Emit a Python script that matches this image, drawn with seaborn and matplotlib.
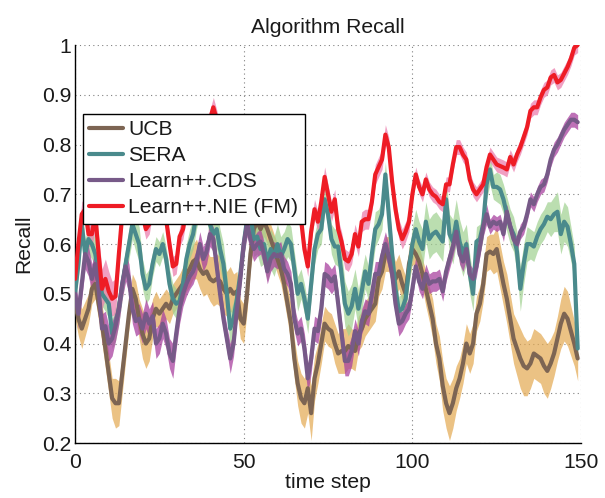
import numpy as np
import pandas as pd
import matplotlib
matplotlib.use("Agg")
import matplotlib.pyplot as plt
import seaborn as sns

# ---- data -------------------------------------------------------------
steps = np.arange(150)

ucb = [0.48, 0.45, 0.43, 0.45, 0.47, 0.51, 0.52, 0.48, 0.44, 0.39,
       0.34, 0.29, 0.28, 0.28, 0.34, 0.40, 0.46, 0.51, 0.49, 0.45,
       0.42, 0.40, 0.41, 0.45, 0.47, 0.46, 0.47, 0.48, 0.47, 0.49,
       0.50, 0.51, 0.52, 0.54, 0.55, 0.565, 0.57, 0.55, 0.54, 0.545,
       0.53, 0.525, 0.53, 0.525, 0.51, 0.50, 0.51, 0.50, 0.505, 0.45,
       0.44, 0.50, 0.58, 0.63, 0.645, 0.63, 0.645, 0.63, 0.61, 0.59,
       0.57, 0.55, 0.52, 0.48, 0.44, 0.37, 0.32, 0.29, 0.28, 0.31,
       0.26, 0.33, 0.36, 0.40, 0.44, 0.43, 0.425, 0.40, 0.38, 0.385,
       0.385, 0.395, 0.39, 0.385, 0.42, 0.43, 0.45, 0.46, 0.47, 0.48,
       0.53, 0.545, 0.58, 0.58, 0.55, 0.53, 0.545, 0.52, 0.50, 0.56,
       0.59, 0.58, 0.565, 0.54, 0.51, 0.48, 0.45, 0.40, 0.37, 0.315,
       0.28, 0.26, 0.28, 0.31, 0.33, 0.36, 0.40, 0.38, 0.40, 0.46,
       0.48, 0.52, 0.58, 0.585, 0.58, 0.59, 0.555, 0.52, 0.49, 0.45,
       0.41, 0.39, 0.37, 0.355, 0.35, 0.36, 0.38, 0.375, 0.37, 0.355,
       0.345, 0.36, 0.38, 0.41, 0.44, 0.46, 0.45, 0.425, 0.40, 0.37]

sera = [0.50, 0.56, 0.64, 0.58, 0.61, 0.60, 0.58, 0.54, 0.50, 0.49,
        0.48, 0.42, 0.44, 0.47, 0.52, 0.56, 0.60, 0.64, 0.62, 0.60,
        0.54, 0.51, 0.52, 0.56, 0.59, 0.58, 0.60, 0.57, 0.52, 0.49,
        0.48, 0.485, 0.52, 0.57, 0.60, 0.62, 0.66, 0.69, 0.71, 0.68,
        0.64, 0.62, 0.63, 0.59, 0.56, 0.50, 0.43, 0.45, 0.49, 0.54,
        0.60, 0.65, 0.66, 0.61, 0.615, 0.59, 0.60, 0.565, 0.59, 0.575,
        0.60, 0.575, 0.59, 0.61, 0.60, 0.55, 0.50, 0.52, 0.49, 0.45,
        0.52, 0.59, 0.62, 0.63, 0.69, 0.66, 0.61, 0.595, 0.595, 0.54,
        0.48, 0.46, 0.475, 0.51, 0.47, 0.505, 0.545, 0.52, 0.58, 0.63,
        0.64, 0.66, 0.74, 0.66, 0.58, 0.51, 0.465, 0.47, 0.49, 0.55,
        0.60, 0.63, 0.605, 0.59, 0.645, 0.61, 0.62, 0.625, 0.615, 0.605,
        0.69, 0.62, 0.605, 0.645, 0.605, 0.58, 0.60, 0.54, 0.50, 0.605,
        0.61, 0.64, 0.72, 0.75, 0.715, 0.715, 0.71, 0.69, 0.66, 0.635,
        0.62, 0.585, 0.51, 0.56, 0.60, 0.60, 0.595, 0.615, 0.63, 0.64,
        0.655, 0.65, 0.66, 0.665, 0.62, 0.645, 0.635, 0.60, 0.56, 0.39]

cds = [0.50, 0.46, 0.52, 0.58, 0.565, 0.53, 0.56, 0.51, 0.43, 0.435,
       0.40, 0.41, 0.435, 0.47, 0.52, 0.555, 0.53, 0.47, 0.445, 0.45,
       0.43, 0.46, 0.44, 0.455, 0.40, 0.41, 0.44, 0.42, 0.38, 0.365,
       0.42, 0.47, 0.50, 0.52, 0.535, 0.545, 0.565, 0.60, 0.57, 0.585,
       0.62, 0.61, 0.555, 0.50, 0.45, 0.41, 0.37, 0.40, 0.47, 0.53,
       0.60, 0.64, 0.61, 0.59, 0.60, 0.605, 0.58, 0.545, 0.57, 0.58,
       0.575, 0.58, 0.55, 0.54, 0.52, 0.45, 0.42, 0.43, 0.39, 0.33,
       0.37, 0.43, 0.425, 0.47, 0.54, 0.535, 0.525, 0.535, 0.48, 0.42,
       0.365, 0.365, 0.385, 0.425, 0.40, 0.445, 0.465, 0.46, 0.50, 0.54,
       0.54, 0.575, 0.60, 0.575, 0.54, 0.48, 0.44, 0.445, 0.46, 0.47,
       0.51, 0.555, 0.525, 0.51, 0.54, 0.52, 0.525, 0.525, 0.53, 0.505,
       0.545, 0.57, 0.595, 0.625, 0.58, 0.565, 0.59, 0.54, 0.53, 0.555,
       0.595, 0.635, 0.66, 0.635, 0.645, 0.64, 0.645, 0.62, 0.665, 0.635,
       0.61, 0.60, 0.625, 0.635, 0.66, 0.69, 0.68, 0.70, 0.715, 0.72,
       0.74, 0.77, 0.79, 0.80, 0.815, 0.83, 0.84, 0.85, 0.85, 0.845]

nie = [0.53, 0.60, 0.66, 0.67, 0.62, 0.62, 0.66, 0.58, 0.51, 0.53,
       0.505, 0.49, 0.495, 0.58, 0.66, 0.71, 0.74, 0.73, 0.70, 0.68,
       0.66, 0.63, 0.64, 0.68, 0.72, 0.70, 0.67, 0.65, 0.60, 0.555,
       0.56, 0.615, 0.63, 0.67, 0.71, 0.73, 0.76, 0.78, 0.80, 0.83,
       0.85, 0.875, 0.85, 0.82, 0.79, 0.76, 0.74, 0.72, 0.70, 0.72,
       0.75, 0.78, 0.80, 0.78, 0.76, 0.75, 0.74, 0.73, 0.74, 0.72,
       0.70, 0.71, 0.69, 0.70, 0.72, 0.71, 0.68, 0.65, 0.59, 0.555,
       0.625, 0.67, 0.645, 0.685, 0.735, 0.70, 0.665, 0.69, 0.63, 0.605,
       0.57, 0.565, 0.58, 0.62, 0.595, 0.645, 0.65, 0.65, 0.685, 0.74,
       0.755, 0.77, 0.82, 0.795, 0.725, 0.67, 0.63, 0.61, 0.625, 0.645,
       0.70, 0.74, 0.715, 0.70, 0.73, 0.71, 0.70, 0.695, 0.685, 0.68,
       0.72, 0.72, 0.76, 0.795, 0.795, 0.78, 0.77, 0.73, 0.71, 0.70,
       0.71, 0.72, 0.755, 0.78, 0.77, 0.76, 0.757, 0.754, 0.75, 0.775,
       0.76, 0.78, 0.795, 0.815, 0.835, 0.868, 0.875, 0.875, 0.895, 0.91,
       0.915, 0.935, 0.94, 0.925, 0.93, 0.943, 0.956, 0.973, 0.995, 1.0]

# half-widths of the shaded spread around each mean curve
ucb_err = [0.03, 0.035, 0.04, 0.035, 0.03, 0.03, 0.03, 0.035, 0.04, 0.04,
           0.04, 0.04, 0.05, 0.045, 0.04, 0.035, 0.03, 0.03, 0.035, 0.04,
           0.05, 0.05, 0.045, 0.04, 0.035, 0.03, 0.03, 0.03, 0.03, 0.03,
           0.03, 0.03, 0.035, 0.035, 0.035, 0.035, 0.04, 0.04, 0.045, 0.045,
           0.045, 0.05, 0.05, 0.05, 0.05, 0.045, 0.045, 0.04, 0.04, 0.04,
           0.04, 0.035, 0.03, 0.03, 0.03, 0.03, 0.03, 0.03, 0.03, 0.03,
           0.03, 0.03, 0.035, 0.035, 0.04, 0.04, 0.045, 0.05, 0.05, 0.05,
           0.055, 0.045, 0.04, 0.04, 0.035, 0.035, 0.035, 0.04, 0.04, 0.045,
           0.045, 0.045, 0.04, 0.04, 0.035, 0.035, 0.035, 0.035, 0.035, 0.035,
           0.035, 0.035, 0.035, 0.035, 0.035, 0.035, 0.035, 0.035, 0.035, 0.035,
           0.03, 0.03, 0.03, 0.03, 0.035, 0.035, 0.04, 0.04, 0.045, 0.05,
           0.05, 0.055, 0.05, 0.045, 0.04, 0.04, 0.04, 0.04, 0.04, 0.035,
           0.035, 0.035, 0.035, 0.035, 0.04, 0.045, 0.045, 0.045, 0.05, 0.05,
           0.05, 0.055, 0.06, 0.06, 0.055, 0.05, 0.05, 0.05, 0.05, 0.055,
           0.055, 0.05, 0.045, 0.045, 0.05, 0.055, 0.055, 0.05, 0.045, 0.045]

sera_err = [0.02, 0.025, 0.03, 0.03, 0.03, 0.03, 0.03, 0.03, 0.025, 0.025,
            0.03, 0.03, 0.035, 0.03, 0.03, 0.03, 0.03, 0.03, 0.035, 0.035,
            0.03, 0.03, 0.03, 0.025, 0.025, 0.025, 0.025, 0.025, 0.03, 0.03,
            0.03, 0.03, 0.03, 0.03, 0.03, 0.03, 0.03, 0.03, 0.03, 0.03,
            0.035, 0.04, 0.04, 0.04, 0.04, 0.04, 0.035, 0.035, 0.03, 0.03,
            0.03, 0.03, 0.035, 0.035, 0.035, 0.035, 0.04, 0.04, 0.04, 0.04,
            0.04, 0.04, 0.035, 0.035, 0.035, 0.035, 0.035, 0.03, 0.03, 0.03,
            0.03, 0.03, 0.03, 0.03, 0.025, 0.025, 0.03, 0.035, 0.04, 0.045,
            0.045, 0.045, 0.045, 0.04, 0.04, 0.04, 0.035, 0.035, 0.035, 0.035,
            0.03, 0.03, 0.025, 0.03, 0.03, 0.03, 0.03, 0.03, 0.03, 0.03,
            0.035, 0.04, 0.04, 0.04, 0.04, 0.04, 0.04, 0.04, 0.04, 0.04,
            0.04, 0.04, 0.045, 0.045, 0.045, 0.045, 0.04, 0.04, 0.035, 0.03,
            0.03, 0.03, 0.03, 0.03, 0.025, 0.03, 0.03, 0.03, 0.035, 0.035,
            0.035, 0.04, 0.045, 0.04, 0.035, 0.03, 0.03, 0.03, 0.03, 0.03,
            0.03, 0.035, 0.035, 0.04, 0.04, 0.04, 0.04, 0.035, 0.035, 0.03]

cds_err = [0.025, 0.03, 0.03, 0.03, 0.03, 0.03, 0.03, 0.03, 0.03, 0.03,
           0.035, 0.035, 0.03, 0.03, 0.03, 0.03, 0.03, 0.03, 0.03, 0.03,
           0.03, 0.03, 0.03, 0.03, 0.03, 0.03, 0.03, 0.03, 0.03, 0.035,
           0.03, 0.03, 0.025, 0.025, 0.025, 0.025, 0.025, 0.025, 0.025, 0.025,
           0.025, 0.025, 0.025, 0.025, 0.025, 0.025, 0.03, 0.025, 0.025, 0.025,
           0.025, 0.025, 0.025, 0.025, 0.025, 0.025, 0.025, 0.025, 0.025, 0.025,
           0.025, 0.025, 0.025, 0.025, 0.025, 0.025, 0.025, 0.025, 0.03, 0.03,
           0.03, 0.025, 0.025, 0.025, 0.025, 0.025, 0.025, 0.025, 0.025, 0.025,
           0.03, 0.03, 0.03, 0.025, 0.025, 0.025, 0.025, 0.025, 0.025, 0.025,
           0.025, 0.025, 0.025, 0.025, 0.025, 0.025, 0.025, 0.02, 0.02, 0.02,
           0.02, 0.02, 0.02, 0.02, 0.02, 0.02, 0.02, 0.02, 0.02, 0.02,
           0.02, 0.02, 0.02, 0.02, 0.02, 0.02, 0.02, 0.02, 0.02, 0.02,
           0.02, 0.02, 0.02, 0.015, 0.015, 0.015, 0.015, 0.015, 0.015, 0.015,
           0.015, 0.015, 0.015, 0.015, 0.015, 0.015, 0.015, 0.015, 0.015, 0.015,
           0.015, 0.015, 0.015, 0.015, 0.015, 0.015, 0.015, 0.015, 0.015, 0.015]

nie_err = [0.02, 0.02, 0.025, 0.025, 0.025, 0.025, 0.03, 0.035, 0.04, 0.04,
           0.04, 0.035, 0.035, 0.03, 0.025, 0.02, 0.02, 0.02, 0.02, 0.02,
           0.02, 0.02, 0.02, 0.02, 0.02, 0.02, 0.02, 0.02, 0.02, 0.02,
           0.02, 0.02, 0.02, 0.02, 0.02, 0.02, 0.02, 0.02, 0.02, 0.02,
           0.02, 0.02, 0.02, 0.02, 0.02, 0.02, 0.02, 0.02, 0.02, 0.02,
           0.02, 0.02, 0.02, 0.02, 0.02, 0.02, 0.02, 0.02, 0.02, 0.02,
           0.02, 0.02, 0.02, 0.02, 0.02, 0.02, 0.02, 0.02, 0.02, 0.02,
           0.02, 0.02, 0.02, 0.02, 0.02, 0.02, 0.02, 0.02, 0.02, 0.02,
           0.02, 0.02, 0.02, 0.02, 0.02, 0.02, 0.02, 0.02, 0.02, 0.02,
           0.02, 0.02, 0.02, 0.02, 0.02, 0.02, 0.02, 0.02, 0.02, 0.02,
           0.015, 0.015, 0.015, 0.015, 0.015, 0.015, 0.015, 0.015, 0.015, 0.015,
           0.015, 0.015, 0.015, 0.015, 0.015, 0.015, 0.015, 0.015, 0.015, 0.015,
           0.015, 0.015, 0.015, 0.015, 0.015, 0.015, 0.015, 0.015, 0.015, 0.015,
           0.015, 0.015, 0.015, 0.015, 0.015, 0.015, 0.015, 0.015, 0.015, 0.015,
           0.015, 0.015, 0.015, 0.015, 0.015, 0.015, 0.015, 0.015, 0.015, 0.015]

algorithms = ["UCB", "SERA", "Learn++.CDS", "Learn++.NIE (FM)"]
x_ticks = [0, 50, 100, 150]
y_ticks = [0.2, 0.3, 0.4, 0.5, 0.6, 0.7, 0.8, 0.9, 1.0]
y_tick_labels = ["0.2", "0.3", "0.4", "0.5", "0.6", "0.7", "0.8", "0.9", "1"]

# ---- styling ----------------------------------------------------------
line_colors = {"UCB": "#7d6553", "SERA": "#4a8a8c",
               "Learn++.CDS": "#775a88", "Learn++.NIE (FM)": "#ee1c25"}
band_colors = {"UCB": "#e3a850", "SERA": "#9fd08f",
               "Learn++.CDS": "#a8429f", "Learn++.NIE (FM)": "#ec7fae"}
band_alpha = {"UCB": 0.7, "SERA": 0.7, "Learn++.CDS": 0.75, "Learn++.NIE (FM)": 0.75}

sns.set_theme(style="white")
plt.rcParams["font.family"] = ["Liberation Sans", "DejaVu Sans"]
FS = 15.2
TEXT = "#1a1a1a"

fig = plt.figure(figsize=(6.05, 4.98), dpi=100)
ax = fig.add_axes([0.124, 0.1104, 0.8364, 0.799])

means = {"UCB": ucb, "SERA": sera, "Learn++.CDS": cds, "Learn++.NIE (FM)": nie}
errs = {"UCB": ucb_err, "SERA": sera_err, "Learn++.CDS": cds_err, "Learn++.NIE (FM)": nie_err}

for name in algorithms:
    m = np.asarray(means[name])
    e = np.asarray(errs[name])
    ax.fill_between(steps, m - e, m + e, color=band_colors[name],
                    alpha=band_alpha[name], linewidth=0, zorder=1)

df = pd.concat([pd.DataFrame({"time step": steps, "Recall": means[n], "algorithm": n})
                for n in algorithms], ignore_index=True)
sns.lineplot(data=df, x="time step", y="Recall", hue="algorithm",
             hue_order=algorithms, palette=line_colors, linewidth=3,
             ax=ax, zorder=3)

ax.set_xlim(0, 150)
ax.set_ylim(0.2, 1.0)
ax.set_xticks(x_ticks)
ax.set_xticklabels([str(t) for t in x_ticks])
ax.set_yticks(y_ticks)
ax.set_yticklabels(y_tick_labels)
ax.grid(True, linestyle=(0, (1, 3)), color="#808080", linewidth=0.8)
ax.set_axisbelow(True)
for side in ("top", "right"):
    ax.spines[side].set_visible(False)
for side in ("left", "bottom"):
    ax.spines[side].set_color("black")
    ax.spines[side].set_linewidth(1.0)
ax.tick_params(axis="both", direction="in", length=5, width=0.8,
               labelsize=FS, colors=TEXT)
ax.tick_params(axis="x", pad=7)
ax.tick_params(axis="y", pad=2.5)

ax.set_title("Algorithm Recall", fontsize=FS, pad=9, color=TEXT)
ax.set_xlabel("time step", fontsize=FS, labelpad=1, color=TEXT)
ax.set_ylabel("Recall", fontsize=FS, labelpad=6, color=TEXT)

handles, labels = ax.get_legend_handles_labels()
leg = ax.legend(handles, labels, loc="upper left", bbox_to_anchor=(0.0158, 0.8266),
                borderaxespad=0, frameon=True, fancybox=False, framealpha=1,
                edgecolor="black", fontsize=FS, handlelength=1.6,
                handletextpad=0.25, labelspacing=0.33, borderpad=0.3)
leg.get_frame().set_linewidth(1.0)
leg.set_zorder(5)
for t in leg.get_texts():
    t.set_color(TEXT)
for h in leg.get_lines():
    h.set_linewidth(3)

fig.savefig("out.png", dpi=100)
